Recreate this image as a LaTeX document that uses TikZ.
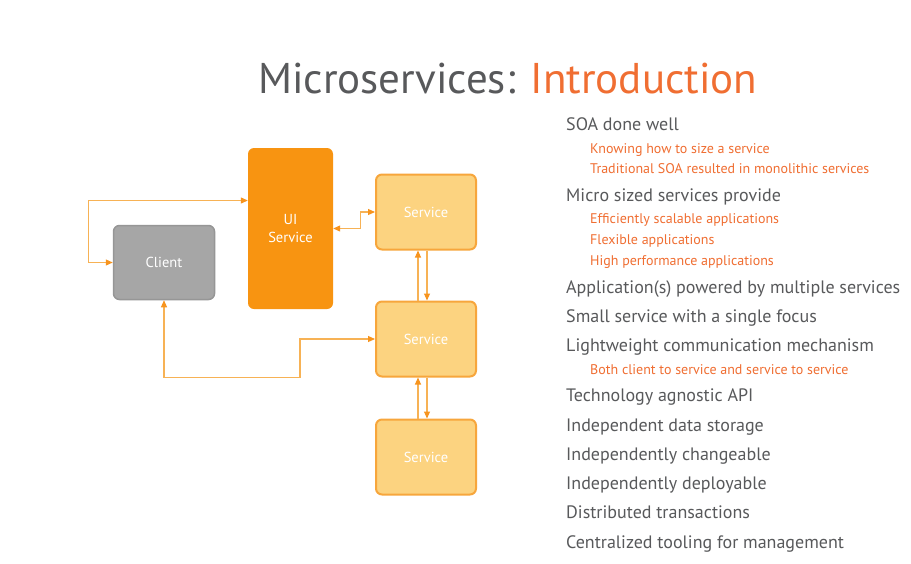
\documentclass[tikz,border=0pt]{standalone}
\usepackage{fontspec}
\setmainfont{PT Sans}
\usepackage{xcolor}
\usepackage{tikz}
\usetikzlibrary{positioning, arrows.meta}

\definecolor{titlegray}{RGB}{88,89,91}
\definecolor{accent}{RGB}{240,110,50}
\definecolor{uifill}{RGB}{248,148,17}
\definecolor{svcfill}{RGB}{252,211,128}
\definecolor{svcline}{RGB}{247,166,60}
\definecolor{clientfill}{RGB}{166,166,166}
\definecolor{clientline}{RGB}{150,150,150}
\definecolor{wire}{RGB}{247,178,85}
\definecolor{tip}{RGB}{247,148,30}

\begin{document}
\begin{tikzpicture}[x=1pt, y=-1pt,
    svc/.style={draw=svcline, fill=svcfill, line width=2pt, rounded corners=6pt,
                minimum width=100pt, minimum height=75pt, text=white,
                font=\fontsize{14.5}{16}\selectfont},
    conn/.style={draw=wire, line width=1.1pt,
                 {Triangle[length=7pt, width=6pt, color=tip]}-{Triangle[length=7pt, width=6pt, color=tip]}},
    one/.style={draw=wire, line width=1.1pt, -{Triangle[length=7pt, width=6pt, color=tip]}},
    item/.style={anchor=base west, inner sep=0pt, text=titlegray,
                 font=\fontsize{18}{20}\selectfont},
    subitem/.style={anchor=base west, inner sep=0pt, text=accent,
                    font=\fontsize{14}{16}\selectfont}
  ]
  \useasboundingbox[fill=white] (0,0) rectangle (911,563);

  % title
  \node[anchor=base west, inner sep=0pt, font=\fontsize{43}{48}\selectfont] (title) at (258,93)
    {\textcolor{titlegray}{Microservices:} \textcolor{accent}{Introduction}};

  % diagram
  \node[draw=clientline, fill=clientfill, line width=1.5pt, rounded corners=6pt,
        minimum width=101pt, minimum height=74pt, text=white,
        font=\fontsize{14.5}{16}\selectfont] (client) at (164,262.5) {Client};
  \node[fill=uifill, rounded corners=6pt, minimum width=85pt, minimum height=161pt,
        text=white, align=center, font=\fontsize{14.5}{18}\selectfont] (ui) at (290.5,228.5) {UI\\Service};
  \node[svc] (svc1) at (426,212) {Service};
  \node[svc, below=50pt of svc1] (svc2) {Service};
  \node[svc, below=41pt of svc2] (svc3) {Service};

  \draw[conn] (client.west) -- ++(-24,0) |- ([yshift=28pt]ui.west);
  \draw[conn] (ui.east) -- ++(27,0) |- (svc1.west);
  \draw[one] ([xshift=-8pt]svc2.north) -- ([xshift=-8pt]svc1.south);
  \draw[one] ([xshift=1pt]svc1.south) -- ([xshift=1pt]svc2.north);
  \draw[one] ([xshift=-8pt]svc3.north) -- ([xshift=-8pt]svc2.south);
  \draw[one] ([xshift=1pt]svc2.south) -- ([xshift=1pt]svc3.north);
  \draw[conn] (client.south) -- ++(0,77) -| ([xshift=-75pt]svc2.west) -- (svc2.west);

  % bullet list
  \foreach \y/\txt [count=\i] in {130/SOA done well, 201/Micro sized services provide,
      293/Application(s) powered by multiple services, 322/Small service with a single focus,
      351/Lightweight communication mechanism, 401/Technology agnostic API,
      431/Independent data storage, 460/Independently changeable,
      489/Independently deployable, 518/Distributed transactions,
      548/Centralized tooling for management}
    \node[item] (item\i) at (566,\y) {\txt};
  \foreach \y/\txt [count=\i] in {153/Knowing how to size a service,
      173/Traditional SOA resulted in monolithic services, 223/Efficiently scalable applications,
      244/Flexible applications, 265/High performance applications,
      374/Both client to service and service to service}
    \node[subitem] (sub\i) at (590,\y) {\txt};
\end{tikzpicture}
\end{document}
